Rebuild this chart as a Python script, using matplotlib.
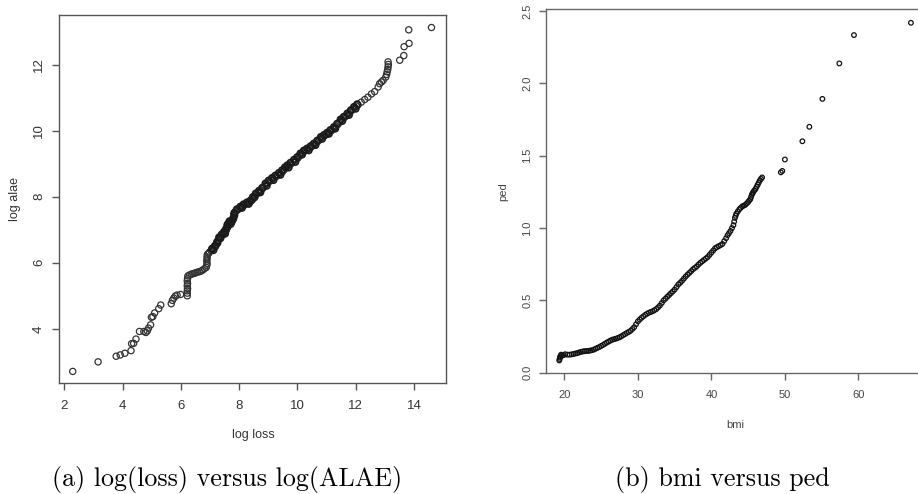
import matplotlib
matplotlib.use('Agg')
import matplotlib.pyplot as plt
import numpy as np

# (a) log loss vs log alae
loss_x = [2.29, 3.16, 3.78, 3.92, 4.08, 4.29, 4.31, 4.38, 4.46, 4.58, 4.73, 4.80, 4.85, 4.89,
          4.96, 4.99, 5.04, 5.10, 5.24, 5.31, 5.67, 5.71, 5.76, 5.81, 5.87, 5.99,
          6.22, 6.22, 6.22, 6.23, 6.22, 6.23, 6.22, 6.23, 6.24,
          6.30, 6.36, 6.41, 6.47, 6.52, 6.58, 6.64, 6.70, 6.75, 6.81, 6.87,
          6.89, 6.90, 6.89, 6.90, 6.90, 6.91,
          6.95, 6.98, 7.04, 7.10, 7.15, 7.19, 7.22, 7.25, 7.27, 7.30, 7.33, 7.38, 7.42, 7.46,
          7.50, 7.53, 7.56, 7.58, 7.59, 7.62, 7.65, 7.69, 7.73, 7.76, 7.78, 7.81, 7.82, 7.83,
          7.84, 7.87, 7.90, 7.95, 8.01, 8.07, 8.13, 8.18, 8.24, 8.30, 8.36, 8.41, 8.45, 8.48,
          8.50, 8.55, 8.59, 8.65, 8.70, 8.76, 8.82, 8.88, 8.93, 8.98, 9.04, 9.10, 9.16, 9.21,
          9.27, 9.33, 9.39, 9.45, 9.50, 9.55, 9.59, 9.63, 9.67, 9.73, 9.79, 9.85, 9.90, 9.96,
          10.02, 10.07, 10.13, 10.19, 10.25, 10.30, 10.36, 10.42, 10.48, 10.53, 10.59, 10.65,
          10.71, 10.77, 10.82, 10.88, 10.93, 10.99, 11.05, 11.10, 11.16, 11.22, 11.28, 11.33,
          11.39, 11.45, 11.51, 11.56, 11.62, 11.68, 11.74, 11.80, 11.85, 11.91, 11.97, 12.03,
          12.08, 12.19, 12.31, 12.42, 12.54, 12.65, 12.77, 12.82, 12.88, 12.94, 13.03, 13.06,
          13.08, 13.10, 13.11, 13.12, 13.11,
          13.51, 13.65, 13.66, 13.83, 13.82, 14.60]
alae_y = [2.71, 3.00, 3.17, 3.21, 3.26, 3.34, 3.55, 3.56, 3.69, 3.92, 3.92, 3.89, 3.94, 4.02,
          4.12, 4.35, 4.37, 4.48, 4.61, 4.72, 4.76, 4.86, 4.93, 4.99, 5.02, 5.04,
          5.00, 5.08, 5.15, 5.22, 5.30, 5.37, 5.45, 5.52, 5.60,
          5.63, 5.65, 5.67, 5.68, 5.70, 5.72, 5.73, 5.75, 5.78, 5.82, 5.86,
          5.92, 5.98, 6.05, 6.12, 6.18, 6.25,
          6.28, 6.32, 6.37, 6.42, 6.46, 6.49, 6.55, 6.62, 6.67, 6.72, 6.76, 6.80, 6.83, 6.87,
          6.91, 6.95, 6.98, 7.05, 7.13, 7.18, 7.23, 7.22, 7.20, 7.25, 7.29, 7.33, 7.40, 7.46,
          7.52, 7.55, 7.57, 7.60, 7.64, 7.68, 7.71, 7.75, 7.78, 7.80, 7.83, 7.87, 7.90, 7.95,
          8.00, 8.04, 8.07, 8.11, 8.15, 8.20, 8.26, 8.32, 8.38, 8.42, 8.46, 8.50, 8.54, 8.58,
          8.61, 8.65, 8.69, 8.73, 8.77, 8.82, 8.87, 8.90, 8.92, 8.96, 9.00, 9.05, 9.09, 9.13,
          9.17, 9.24, 9.30, 9.34, 9.38, 9.41, 9.43, 9.47, 9.51, 9.55, 9.58, 9.63,
          9.68, 9.74, 9.79, 9.82, 9.84, 9.88, 9.92, 9.96, 9.99, 10.04, 10.09, 10.14,
          10.19, 10.26, 10.33, 10.37, 10.40, 10.45, 10.50, 10.55, 10.60, 10.65, 10.70, 10.74,
          10.78, 10.86, 10.94, 11.01, 11.11, 11.18, 11.32, 11.42, 11.47, 11.52, 11.62, 11.70,
          11.78, 11.85, 11.93, 12.00, 12.08,
          12.13, 12.27, 12.54, 12.64, 13.05, 13.12]

band_x = [7.07, 7.17, 7.24, 7.31, 7.40, 7.48, 7.55, 7.60, 7.67, 7.74, 7.80, 7.83, 7.92, 8.04,
          8.15, 8.27, 8.39, 8.47, 8.57, 8.68, 8.79, 8.90, 9.01, 9.13, 9.24, 9.36, 9.47, 9.57,
          9.65, 9.76, 9.88, 9.99, 10.10, 10.22, 10.33, 10.45, 10.56, 10.68, 10.80, 10.91,
          11.02, 11.13, 11.25, 11.36, 11.48, 11.59, 11.71, 11.83, 11.94, 12.05,
          7.12, 7.26, 7.36, 7.52, 7.60, 7.71, 7.84, 8.10, 8.33, 8.53, 8.73, 8.95, 9.18, 9.42,
          9.70, 9.93, 10.16, 10.39, 10.62, 10.85, 11.08, 11.30, 11.54, 11.77, 12.00]
band_y = [6.43, 6.52, 6.63, 6.77, 6.86, 6.94, 7.03, 7.16, 7.26, 7.25, 7.36, 7.50, 7.62, 7.70,
          7.77, 7.83, 7.89, 7.99, 8.10, 8.18, 8.27, 8.40, 8.49, 8.57, 8.64, 8.72, 8.80, 8.89,
          8.95, 9.03, 9.12, 9.20, 9.31, 9.40, 9.46, 9.53, 9.61, 9.70, 9.81, 9.87,
          9.94, 10.02, 10.11, 10.21, 10.34, 10.42, 10.52, 10.62, 10.72, 10.80,
          6.38, 6.60, 6.74, 6.88, 7.08, 7.17, 7.44, 7.66, 7.78, 7.98, 8.13, 8.33, 8.50, 8.66,
          8.88, 9.05, 9.27, 9.40, 9.56, 9.75, 9.90, 10.06, 10.29, 10.47, 10.66]

# (b) bmi vs ped
bmi = [19.30, 19.35, 19.40, 19.45, 19.55, 19.70, 19.90, 20.10, 20.40, 20.70, 21.00, 21.25,
       21.50, 21.75, 22.00, 22.25, 22.50, 22.75, 23.00, 23.25, 23.50, 23.75, 24.00, 24.25,
       24.50, 24.75, 25.00, 25.25, 25.50, 25.75, 26.00, 26.25, 26.50, 26.75, 27.00, 27.25,
       27.50, 27.75, 28.00, 28.25, 28.50, 28.75, 29.00, 29.25, 29.50, 29.75, 30.00, 30.25,
       30.50, 30.75, 31.00, 31.25, 31.50, 31.75, 32.00, 32.25, 32.50, 32.75, 33.00, 33.25,
       33.50, 33.75, 34.00, 34.25, 34.50, 34.75, 35.00, 35.25, 35.50, 35.75, 36.00, 36.25,
       36.50, 36.75, 37.00, 37.25, 37.50, 37.75, 38.00, 38.25, 38.50, 38.75, 39.00, 39.25,
       39.50, 39.75, 40.00, 40.25, 40.50, 40.75, 41.00, 41.25, 41.50, 41.75, 42.00, 42.20,
       42.40, 42.60, 42.80, 43.00, 43.10, 43.20, 43.30, 43.40, 43.60, 43.80, 44.00, 44.20,
       44.40, 44.60, 44.80, 45.00, 45.15, 45.30, 45.40, 45.50, 45.60, 45.70, 45.85, 46.00,
       46.15, 46.30, 46.45, 46.60, 46.75, 46.90,
       49.45, 49.65, 50.00, 52.38, 53.33, 55.10, 57.41, 59.40, 67.15]
ped = [0.085, 0.095, 0.105, 0.115, 0.125, 0.118, 0.122, 0.128, 0.125, 0.125, 0.127, 0.130,
       0.133, 0.136, 0.140, 0.144, 0.147, 0.149, 0.150, 0.151, 0.153, 0.156, 0.160, 0.166,
       0.172, 0.178, 0.185, 0.192, 0.200, 0.208, 0.215, 0.222, 0.228, 0.232, 0.235, 0.240,
       0.245, 0.252, 0.260, 0.267, 0.275, 0.282, 0.290, 0.302, 0.315, 0.335, 0.355, 0.368,
       0.380, 0.390, 0.400, 0.408, 0.415, 0.420, 0.425, 0.432, 0.440, 0.452, 0.465, 0.482,
       0.500, 0.512, 0.525, 0.537, 0.550, 0.562, 0.575, 0.592, 0.610, 0.622, 0.635, 0.650,
       0.665, 0.678, 0.690, 0.702, 0.715, 0.725, 0.735, 0.748, 0.760, 0.770, 0.780, 0.790,
       0.800, 0.815, 0.830, 0.845, 0.860, 0.868, 0.875, 0.882, 0.890, 0.910, 0.930, 0.950,
       0.965, 0.980, 1.000, 1.020, 1.045, 1.070, 1.085, 1.100, 1.115, 1.130, 1.140, 1.150,
       1.155, 1.160, 1.170, 1.180, 1.190, 1.200, 1.215, 1.230, 1.240, 1.250, 1.260, 1.270,
       1.285, 1.300, 1.315, 1.330, 1.340, 1.350,
       1.385, 1.395, 1.474, 1.600, 1.700, 1.893, 2.138, 2.334, 2.419]

captions = ['(a) log(loss) versus log(ALAE)', '(b) bmi versus ped']

plt.rcParams['font.family'] = ['Liberation Sans', 'DejaVu Sans']

fig = plt.figure(figsize=(9.18, 4.94), dpi=100)


def r_style(ax, spine_col, label_col, fs):
    for s in ax.spines.values():
        s.set_color(spine_col)
        s.set_linewidth(1.0)
    ax.tick_params(axis='both', direction='out', length=5, width=1.0, color=spine_col,
                   labelcolor=label_col, labelsize=fs)
    ax.tick_params(axis='x', pad=7)
    ax.tick_params(axis='y', pad=5, labelrotation=90)
    for lab in ax.get_yticklabels():
        lab.set_va('center')


# left panel
ax1 = fig.add_axes([0.0643, 0.2247, 0.4216, 0.745])
ax1.scatter(loss_x, alae_y, s=20, facecolors='none', edgecolors='#333333', linewidths=0.9)
ax1.scatter(band_x, band_y, s=20, facecolors='none', edgecolors='#1a1a1a', linewidths=1.2)
ax1.set_xlim(1.82, 15.1)
ax1.set_ylim(2.36, 13.5)
ax1.set_xticks(np.arange(2, 15, 2))
ax1.set_yticks(np.arange(4, 13, 2))
r_style(ax1, '#555555', '#333333', 9.5)
ax1.set_xlabel('log loss', fontsize=9, color='#333333')
ax1.set_ylabel('log alae', fontsize=9, color='#333333')
ax1.xaxis.set_label_coords(0.501, -0.141)
ax1.xaxis.label.set_va('center')
ax1.yaxis.set_label_coords(-0.113, 0.5)
ax1.yaxis.label.set_va('center')

# right panel, its right edge runs off the picture
ax2 = fig.add_axes([0.5948, 0.2443, 0.4139, 0.7368])
ax2.scatter(bmi, ped, s=11, facecolors='none', edgecolors='#111111', linewidths=0.9)
ax2.set_xlim(17.5, 69.2)
ax2.set_ylim(-0.004, 2.512)
ax2.set_xticks([20, 30, 40, 50, 60])
ax2.set_yticks([0.0, 0.5, 1.0, 1.5, 2.0, 2.5])
ax2.set_yticklabels(['0.0', '0.5', '1.0', '1.5', '2.0', '2.5'])
r_style(ax2, '#666666', '#444444', 8)
ax2.set_xlabel('bmi', fontsize=8, color='#444444')
ax2.set_ylabel('ped', fontsize=8, color='#444444')
ax2.xaxis.set_label_coords(0.497, -0.142)
ax2.xaxis.label.set_va('center')
ax2.yaxis.set_label_coords(-0.113, 0.498)
ax2.yaxis.label.set_va('center')

# sub-captions
fig.text(0.247, 0.030, captions[0], family='cmr10', fontsize=18.7, ha='center', va='center')
fig.text(0.7865, 0.030, captions[1], family='cmr10', fontsize=18.7, ha='center', va='center')

fig.savefig('out.png', dpi=100)
